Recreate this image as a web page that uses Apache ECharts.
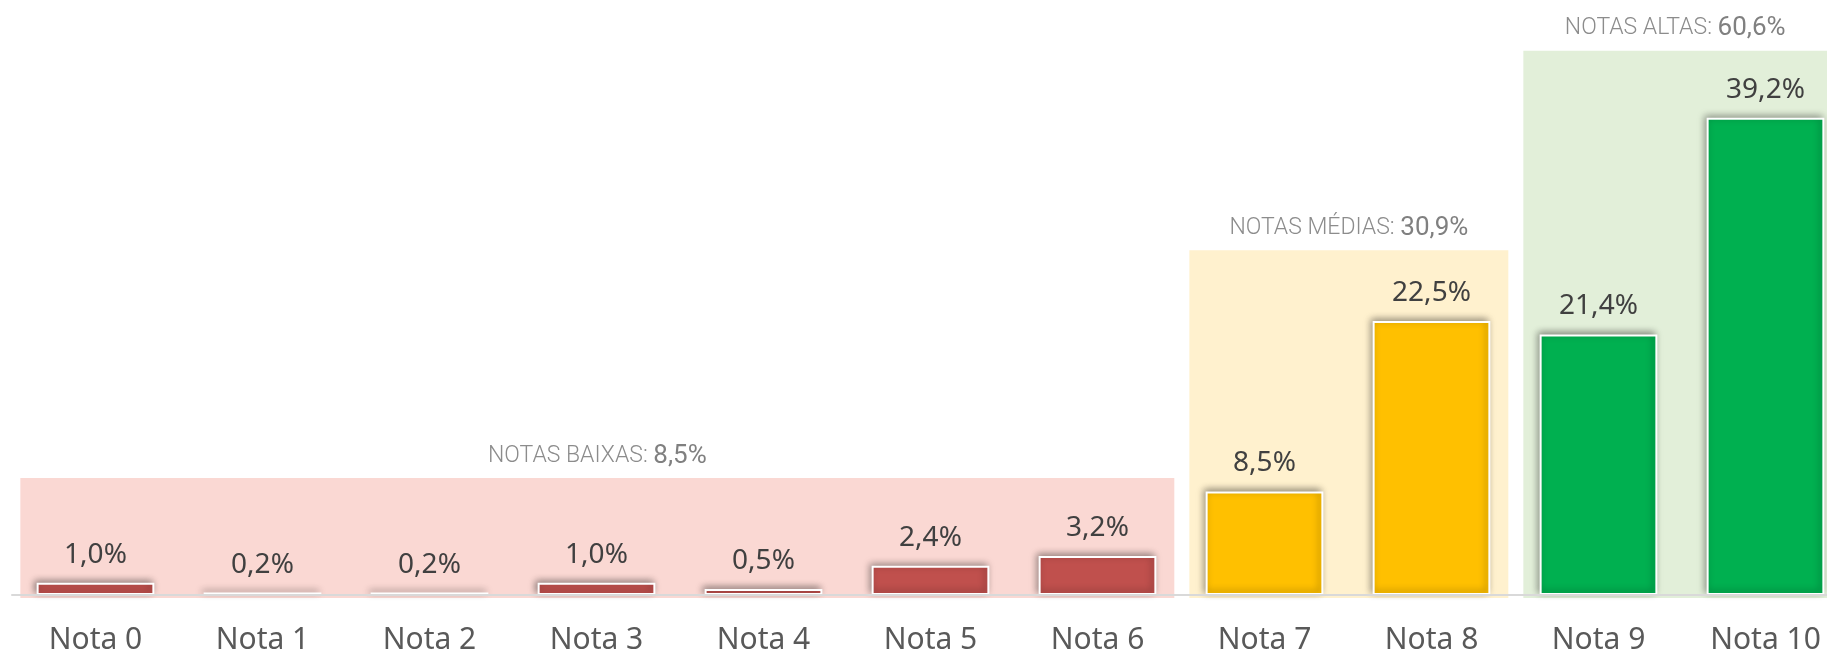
<!DOCTYPE html>
<html>
<head>
<meta charset="utf-8">
<script src="https://cdn.jsdelivr.net/npm/echarts@6/dist/echarts.min.js"></script>
<style>
  html, body { margin: 0; padding: 0; background: #ffffff; }
  #chart { width: 1827px; height: 653px; }
</style>
</head>
<body>
<div id="chart"></div>
<script>
// ---- data ----
const categories = ['Nota 0', 'Nota 1', 'Nota 2', 'Nota 3', 'Nota 4', 'Nota 5', 'Nota 6', 'Nota 7', 'Nota 8', 'Nota 9', 'Nota 10'];
const values = [1.0, 0.2, 0.2, 1.0, 0.5, 2.4, 3.2, 8.5, 22.5, 21.4, 39.2];
const categoryGroup = [0, 0, 0, 0, 0, 0, 0, 1, 1, 2, 2];
const groupNames = ['NOTAS BAIXAS', 'NOTAS MÉDIAS', 'NOTAS ALTAS'];
const groupTotals = [8.5, 30.9, 60.6];
const groupStart = [0, 7, 9];
const groupEnd = [6, 8, 10];
const groupBandTop = [9.6, 28.3, 44.7];

// ---- styles ----
const barColors = ['#C0504D', '#FFC000', '#00B050'];
const bandColors = ['#FAD8D3', '#FFF1CE', '#E2EFD9'];

const fmt = v => v.toFixed(1).replace('.', ',') + '%';

const chart = echarts.init(document.getElementById('chart'), null, { renderer: 'canvas' });

const bandData = groupNames.map((n, i) => [groupStart[i], groupEnd[i], groupBandTop[i], i]);

const option = {
  animation: false,
  backgroundColor: '#ffffff',
  grid: { left: 12, width: 1837, top: 47, bottom: 58, containLabel: false, outerBoundsMode: 'none' },
  xAxis: {
    type: 'category',
    data: categories,
    z: 5,
    axisLine: { show: true, lineStyle: { color: '#D9D9D9', width: 2 } },
    axisTick: { show: false },
    axisLabel: {
      interval: 0,
      margin: 30,
      fontFamily: 'Noto Sans',
      fontSize: 30,
      color: '#595959'
    },
    splitLine: { show: false }
  },
  yAxis: {
    type: 'value',
    min: 0,
    max: 45,
    show: false,
    splitLine: { show: false }
  },
  series: [
    {
      type: 'custom',
      z: 1,
      clip: false,
      silent: true,
      data: bandData,
      renderItem: function (params, api) {
        const s = api.value(0), e = api.value(1), top = api.value(2), g = api.value(3);
        const w = api.size([1, 0])[0];
        const p0 = api.coord([s, 0]);
        const p1 = api.coord([e, top]);
        const x0 = p0[0] - w * 0.45;
        const x1 = p1[0] + w * 0.46;
        const y0 = p1[1];
        const y1 = p0[1] + 3;
        const visRight = Math.min(x1, api.getWidth());
        return {
          type: 'group',
          children: [
            {
              type: 'rect',
              shape: { x: x0, y: y0, width: x1 - x0, height: y1 - y0 },
              style: { fill: bandColors[g] }
            },
            {
              type: 'text',
              style: {
                text: '{a|' + groupNames[g] + ': }{b|' + fmt(groupTotals[g]) + '}',
                x: (x0 + visRight) / 2,
                y: y0 - 22,
                align: 'center',
                verticalAlign: 'middle',
                rich: {
                  a: { fontFamily: 'Roboto', fontWeight: 300, fontSize: 23, fill: '#8C8C8C', color: '#8C8C8C' },
                  b: { fontFamily: 'Roboto', fontWeight: 400, fontSize: 26, fill: '#808080', color: '#808080' }
                }
              }
            }
          ]
        };
      }
    },
    {
      type: 'bar',
      z: 2,
      barWidth: '70.5%',
      data: values.map((v, i) => ({
        value: v,
        itemStyle: { color: barColors[categoryGroup[i]] }
      })),
      itemStyle: {
        borderColor: '#ffffff',
        borderWidth: 2,
        shadowBlur: 7,
        shadowColor: 'rgba(0,0,0,0.4)',
        shadowOffsetX: -2,
        shadowOffsetY: -2
      },
      label: {
        show: true,
        position: 'top',
        distance: 14,
        fontFamily: 'Noto Sans',
        fontSize: 28,
        color: '#404040',
        formatter: p => fmt(p.value)
      }
    }
  ]
};

chart.setOption(option);
</script>
</body>
</html>
